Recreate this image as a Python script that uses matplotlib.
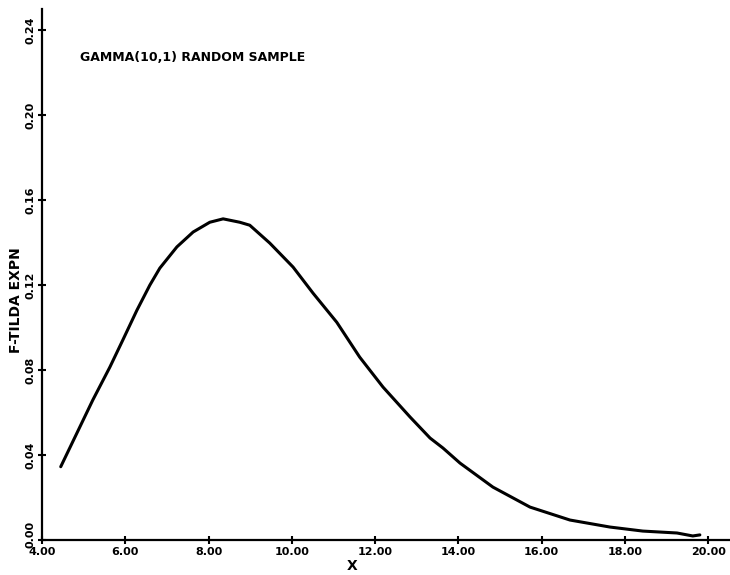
import matplotlib
matplotlib.use("Agg")
import matplotlib.pyplot as plt
import matplotlib.transforms as mtransforms

# data
x_vals = [4.45, 4.84, 5.22, 5.63, 5.94, 6.28, 6.59, 6.83, 7.24, 7.63, 8.03, 8.35,
          8.75, 8.99, 9.47, 10.03, 10.51, 11.08, 11.63, 12.19, 12.84, 13.32,
          13.63, 14.04, 14.83, 15.72, 16.68, 17.64, 18.43, 19.25, 19.63, 19.8]
y_vals = [0.0345, 0.0504, 0.0659, 0.0814, 0.0941, 0.1082, 0.1200, 0.1280, 0.138,
          0.145, 0.1496, 0.1512, 0.1496, 0.1482, 0.1398, 0.1285, 0.1162, 0.1025,
          0.0861, 0.072, 0.0579, 0.048, 0.0433, 0.0362, 0.0249, 0.0155, 0.0094,
          0.0061, 0.0042, 0.0033, 0.0019, 0.0024]

x_ticks = [4, 6, 8, 10, 12, 14, 16, 18, 20]
x_tick_labels = ["4.00", "6.00", "8.00", "10.00", "12.00", "14.00", "16.00", "18.00", "20.00"]
y_ticks = [0.0, 0.04, 0.08, 0.12, 0.16, 0.20, 0.24]
y_tick_labels = ["0.00", "0.04", "0.08", "0.12", "0.16", "0.20", "0.24"]

title_text = "GAMMA(10,1) RANDOM SAMPLE"
x_label = "X"
y_label = "F-TILDA EXPN"

W, H = 730, 575
fig = plt.figure(figsize=(7.3, 5.75), dpi=100)
ax = fig.add_axes([42 / W, 1 - 540 / H, (729 - 42) / W, (540 - 9) / H])
ax.plot(x_vals, y_vals, color="black", linewidth=2.2, solid_capstyle="round",
        solid_joinstyle="round")

ax.set_xlim(4, 20.5)
ax.set_ylim(0, 0.25)
for s in ["top", "right"]:
    ax.spines[s].set_visible(False)
for s in ["left", "bottom"]:
    ax.spines[s].set_linewidth(1.6)

ax.set_xticks(x_ticks)
ax.set_xticklabels(x_tick_labels, fontsize=8, fontweight="bold")
ax.set_yticks(y_ticks)
ax.set_yticklabels(y_tick_labels, fontsize=8, fontweight="bold", rotation=90, va="center")
ax.tick_params(direction="inout", length=6, width=1.5, pad=2)

# nudge the bottom y label up slightly so it does not collide with "4.00"
lbl0 = ax.get_yticklabels()[0]
lbl0.set_transform(lbl0.get_transform() +
                   mtransforms.ScaledTranslation(0, 4 / 72, fig.dpi_scale_trans))

ax.text(4.91, 0.227, title_text, fontsize=9, fontweight="bold", va="center", ha="left")
fig.text(352 / W, 1 - 566 / H, x_label, fontsize=10, fontweight="bold",
         ha="center", va="center")
fig.text(16 / W, 1 - 300 / H, y_label, fontsize=10, fontweight="bold",
         ha="center", va="center", rotation=90)

fig.savefig("out.png", dpi=100)
